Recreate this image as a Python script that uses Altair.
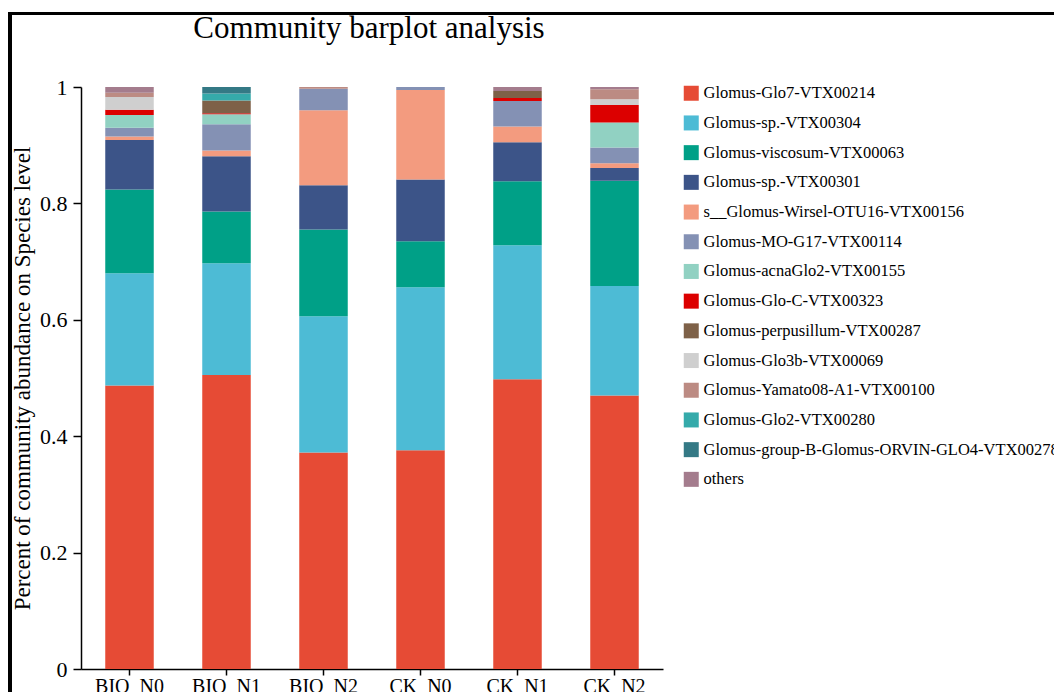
import altair as alt
import pandas as pd

samples = ["BIO_N0", "BIO_N1", "BIO_N2", "CK_N0", "CK_N1", "CK_N2"]

species = [
    "Glomus-Glo7-VTX00214",
    "Glomus-sp.-VTX00304",
    "Glomus-viscosum-VTX00063",
    "Glomus-sp.-VTX00301",
    "s__Glomus-Wirsel-OTU16-VTX00156",
    "Glomus-MO-G17-VTX00114",
    "Glomus-acnaGlo2-VTX00155",
    "Glomus-Glo-C-VTX00323",
    "Glomus-perpusillum-VTX00287",
    "Glomus-Glo3b-VTX00069",
    "Glomus-Yamato08-A1-VTX00100",
    "Glomus-Glo2-VTX00280",
    "Glomus-group-B-Glomus-ORVIN-GLO4-VTX00278",
    "others",
]

colors = [
    "#E64B35", "#4DBBD5", "#00A087", "#3C5488", "#F39B7F", "#8491B4",
    "#91D1C2", "#DC0000", "#7E6148", "#CFCFCF", "#BC8B83", "#35AAAA",
    "#347985", "#A47C8D",
]

# abundance of each species in each sample (order of samples above)
glo7 = [0.487, 0.505, 0.372, 0.376, 0.498, 0.470]
sp304 = [0.193, 0.192, 0.234, 0.280, 0.230, 0.188]
viscosum = [0.144, 0.089, 0.149, 0.079, 0.110, 0.181]
sp301 = [0.085, 0.095, 0.076, 0.106, 0.067, 0.022]
wirsel = [0.006, 0.010, 0.129, 0.154, 0.027, 0.008]
mo_g17 = [0.015, 0.045, 0.037, 0.005, 0.044, 0.027]
acnaglo2 = [0.022, 0.017, 0.0, 0.0, 0.0, 0.043]
glo_c = [0.009, 0.002, 0.0, 0.0, 0.005, 0.030]
perpusillum = [0.0, 0.022, 0.0, 0.0, 0.012, 0.0]
glo3b = [0.022, 0.0, 0.0, 0.0, 0.0, 0.010]
yamato = [0.007, 0.0, 0.003, 0.0, 0.0, 0.017]
glo2 = [0.0, 0.012, 0.0, 0.0, 0.0, 0.0]
group_b = [0.0, 0.011, 0.0, 0.0, 0.0, 0.0]
others = [0.010, 0.0, 0.0, 0.0, 0.007, 0.004]

series = [glo7, sp304, viscosum, sp301, wirsel, mo_g17, acnaglo2, glo_c,
          perpusillum, glo3b, yamato, glo2, group_b, others]

rows = []
for i, (name, vals) in enumerate(zip(species, series)):
    for s, v in zip(samples, vals):
        rows.append({"sample": s, "species": name, "value": v, "idx": i})
df = pd.DataFrame(rows)

FONT = "Liberation Serif"

bars = alt.Chart(df).mark_bar().encode(
    x=alt.X("sample:N", sort=samples,
            scale=alt.Scale(paddingInner=0.5, paddingOuter=0.25),
            axis=alt.Axis(title=None, labelAngle=0, labelFont=FONT,
                          labelFontSize=20, labelColor="black",
                          tickSize=6, tickColor="black", tickWidth=1.5,
                          domainColor="black", domainWidth=1.5,
                          labelPadding=1, grid=False)),
    y=alt.Y("value:Q", stack="zero",
            scale=alt.Scale(domain=[0, 1], nice=False),
            axis=alt.Axis(title="Percent of community abundance on Species level",
                          values=[0, 0.2, 0.4, 0.6, 0.8, 1], format="~g",
                          labelFont=FONT, labelFontSize=22, labelColor="black",
                          titleFont=FONT, titleFontSize=23, titleFontWeight="normal",
                          titleColor="black", titlePadding=5,
                          tickSize=8, tickColor="black", tickWidth=1.5,
                          domainColor="black", domainWidth=1.5,
                          labelPadding=6, grid=False)),
    color=alt.Color("species:N",
                    scale=alt.Scale(domain=species, range=colors),
                    legend=alt.Legend(title=None, orient="none",
                                      legendX=602, legendY=-2,
                                      padding=0, symbolType="square",
                                      symbolSize=225, symbolStrokeWidth=0,
                                      labelFont=FONT, labelFontSize=16.5,
                                      labelColor="black", labelLimit=700,
                                      labelOffset=4, rowPadding=12.7)),
    order=alt.Order("idx:Q", sort="ascending"),
)

frame = pd.DataFrame({"k": [0]})
top_line = alt.Chart(frame).mark_rule(color="black", strokeWidth=3).encode(
    x=alt.value(-73), x2=alt.value(1000), y=alt.value(-73.5))
left_line = alt.Chart(frame).mark_rule(color="black", strokeWidth=4).encode(
    x=alt.value(-71), y=alt.value(-75), y2=alt.value(700))

chart = alt.layer(bars, top_line, left_line).properties(
    width=582, height=582,
    title=alt.TitleParams("Community barplot analysis", font=FONT, fontSize=31,
                          fontWeight="normal", color="black", anchor="middle",
                          baseline="alphabetic", offset=-59, dx=-3),
    autosize=alt.AutoSizeParams(type="none"),
    padding={"left": 73, "top": 79, "right": 391, "bottom": 40},
).configure_view(stroke=None)

chart.save("out.html", embed_options={"renderer": "svg", "actions": False})
